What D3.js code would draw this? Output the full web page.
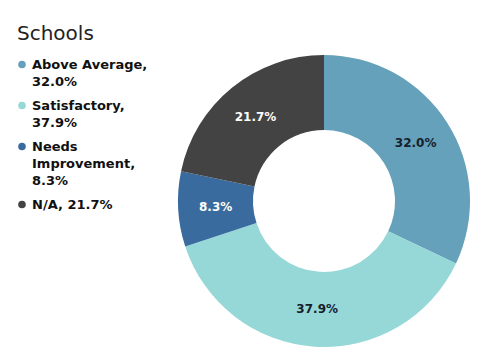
<!DOCTYPE html>
<html><head><meta charset="utf-8">
<script src="https://cdn.jsdelivr.net/npm/d3@7"></script>
<style>body{margin:0;background:#fff}svg{display:block}</style>
</head><body>
<svg id="c" width="487" height="364"></svg>
<script>
const categories = ["Above Average", "Satisfactory", "Needs Improvement", "N/A"];
const values = [32.0, 37.9, 8.3, 21.7];
const colors = ["#65a1ba", "#96d7d7", "#3a6b9e", "#434343"];
const labelColors = ["#15202c", "#15202c", "#ffffff", "#ffffff"];
const legendLines = [["Above Average,", "32.0%"], ["Satisfactory,", "37.9%"], ["Needs", "Improvement,", "8.3%"], ["N/A, 21.7%"]];
const title = "Schools";

const svg = d3.select("#c");
const font = "Verdana, 'DejaVu Sans', sans-serif";

svg.append("text").attr("x", 17).attr("y", 40).attr("font-family", font)
  .attr("font-size", 20).attr("fill", "#222").text(title);

const lg = svg.append("g");
let y = 69;
legendLines.forEach((lines, i) => {
  lg.append("circle").attr("cx", 22).attr("cy", y - 4.5).attr("r", 3.8).attr("fill", colors[i]);
  const t = lg.append("text").attr("font-family", font).attr("font-size", 13)
    .attr("font-weight", "bold").attr("fill", "#111");
  lines.forEach((l, j) => {
    t.append("tspan").attr("x", 32).attr("y", y + j * 17).text(l);
  });
  y += lines.length * 17 + 7;
});

const cx = 324, cy = 201, R = 146, r = 71;
const pie = d3.pie().sort(null).value(d => d)(values);
const arc = d3.arc().innerRadius(r).outerRadius(R);
const labelArc = d3.arc().innerRadius((r + R) / 2).outerRadius((r + R) / 2);
const g = svg.append("g").attr("transform", `translate(${cx},${cy})`);
g.selectAll("path").data(pie).join("path").attr("d", arc).attr("fill", (d, i) => colors[i]);
g.selectAll("text").data(pie).join("text")
  .attr("transform", d => `translate(${labelArc.centroid(d)})`)
  .attr("text-anchor", "middle").attr("dy", "0.35em")
  .attr("font-family", font).attr("font-size", 12).attr("font-weight", "bold")
  .attr("fill", (d, i) => labelColors[i])
  .text(d => d.data.toFixed(1) + "%");
</script>
</body></html>
